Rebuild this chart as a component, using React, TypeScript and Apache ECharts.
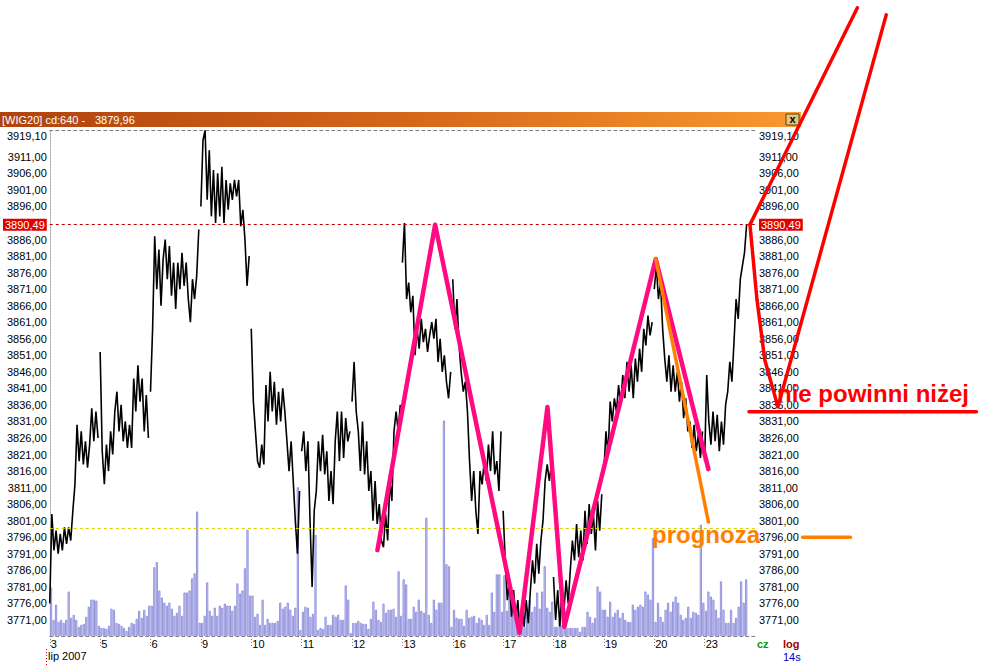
import React, { useEffect, useRef } from "react";
import * as echarts from "echarts";

// ---- axis / labels ----
const dayLabels = ["3", "5", "6", "9", "10", "11", "12", "13", "16", "17", "18", "19", "20", "23"];
const priceMin = 3766.15;
const priceMax = 3919.1;
const lastPrice = 3890.49;
const yTickValues = [
  3766.15, 3771, 3776, 3781, 3786, 3791, 3796, 3801, 3806, 3811, 3816, 3821, 3826, 3831, 3836, 3841,
  3846, 3851, 3856, 3861, 3866, 3871, 3876, 3881, 3886, 3890.49, 3896, 3901, 3906, 3911, 3919.1,
];
const volumeLevel = 106;

// ---- price, per session (July 2007) ----
const p03 = [3776, 3803, 3792, 3798, 3791, 3797, 3792, 3799, 3794, 3799, 3795, 3804, 3812, 3830, 3819, 3828, 3818, 3825, 3817, 3824, 3835, 3825, 3834, 3826];
const p05 = [3852, 3822, 3812, 3824, 3816, 3828, 3821, 3834, 3840, 3828, 3836, 3825, 3831, 3823, 3830, 3823, 3844, 3834, 3848, 3837, 3844, 3828, 3839, 3826];
const p06 = [3840, 3859, 3887, 3871, 3883, 3866, 3880, 3886, 3874, 3884, 3869, 3879, 3865, 3879, 3871, 3882, 3872, 3879, 3868, 3861, 3874, 3868, 3875, 3889];
const p09 = [3896, 3916, 3919, 3898, 3913, 3893, 3907, 3891, 3906, 3893, 3908, 3891, 3904, 3895, 3903, 3898, 3904, 3899, 3904, 3890, 3895, 3886, 3872, 3881];
const p10 = [3859, 3837, 3828, 3819, 3817, 3824, 3818, 3842, 3831, 3846, 3834, 3843, 3830, 3840, 3831, 3841, 3834, 3825, 3816, 3825, 3813, 3801, 3791, 3810];
const p11 = [3822, 3828, 3816, 3825, 3801, 3781, 3804, 3810, 3825, 3816, 3827, 3815, 3822, 3807, 3816, 3806, 3825, 3834, 3819, 3834, 3820, 3832, 3825, 3828];
const p12 = [3837, 3849, 3834, 3828, 3816, 3831, 3815, 3825, 3810, 3816, 3801, 3813, 3800, 3806, 3795, 3793, 3803, 3795, 3813, 3807, 3828, 3834, 3828, 3836];
const p13 = [3879, 3891, 3868, 3873, 3864, 3869, 3851, 3859, 3853, 3862, 3855, 3859, 3852, 3857, 3861, 3856, 3862, 3849, 3856, 3846, 3851, 3843, 3838, 3846];
const p16 = [3874, 3859, 3868, 3854, 3846, 3840, 3843, 3834, 3819, 3807, 3816, 3804, 3797, 3816, 3812, 3819, 3813, 3824, 3816, 3828, 3815, 3819, 3810, 3828];
const p17 = [3804, 3789, 3777, 3783, 3772, 3780, 3771, 3777, 3767, 3776, 3769, 3777, 3770, 3780, 3789, 3782, 3794, 3785, 3795, 3801, 3813, 3818, 3813, 3818];
const p18 = [3784, 3771, 3780, 3769, 3780, 3774, 3783, 3776, 3786, 3795, 3789, 3800, 3790, 3798, 3789, 3804, 3794, 3806, 3797, 3803, 3792, 3807, 3798, 3809];
const p19 = [3816, 3828, 3821, 3837, 3831, 3838, 3834, 3842, 3836, 3845, 3838, 3849, 3840, 3848, 3838, 3850, 3843, 3853, 3846, 3859, 3854, 3863, 3857, 3861];
const p20 = [3871, 3878, 3868, 3873, 3859, 3850, 3843, 3851, 3840, 3848, 3840, 3846, 3837, 3843, 3832, 3838, 3828, 3831, 3823, 3830, 3822, 3827, 3820, 3828];
const p23 = [3819, 3845, 3831, 3824, 3834, 3825, 3833, 3822, 3831, 3824, 3836, 3840, 3849, 3843, 3855, 3868, 3862, 3874, 3878, 3882, 3890.49];

// ---- volume, per session ----
const v03 = [48, 16, 31, 14, 16, 13, 16, 44, 18, 21, 16, 9, 11, 12, 19, 29, 36, 36, 35, 10];
const v05 = [8, 8, 7, 10, 27, 26, 13, 12, 10, 8, 5, 9, 13, 12, 17, 25, 18, 26, 20, 30];
const v06 = [30, 68, 73, 45, 38, 33, 30, 33, 27, 20, 23, 30, 20, 43, 43, 45, 57, 62, 123, 13];
const v09 = [13, 20, 53, 25, 20, 28, 20, 30, 28, 32, 30, 30, 25, 30, 52, 42, 45, 67, 105, 40];
const v10 = [40, 19, 22, 11, 36, 11, 17, 13, 13, 13, 15, 33, 27, 29, 33, 26, 20, 28, 147, 6];
const v11 = [24, 29, 28, 19, 22, 100, 6, 8, 7, 19, 11, 11, 21, 19, 21, 16, 16, 50, 36, 3];
const v12 = [13, 13, 15, 13, 12, 12, 7, 17, 34, 26, 16, 14, 32, 23, 26, 26, 27, 19, 64, 20];
const v13 = [56, 51, 17, 17, 29, 24, 36, 25, 23, 117, 21, 13, 36, 26, 33, 33, 213, 71, 69, 9];
const v16 = [26, 18, 17, 17, 10, 26, 18, 19, 20, 13, 18, 16, 11, 21, 11, 43, 24, 61, 61, 24];
const v17 = [60, 25, 43, 36, 23, 29, 21, 26, 9, 28, 36, 24, 29, 43, 27, 44, 69, 28, 24, 34];
const v18 = [9, 9, 16, 11, 9, 8, 8, 8, 8, 8, 4, 9, 9, 24, 19, 13, 18, 49, 44, 26];
const v19 = [26, 19, 34, 19, 23, 26, 18, 23, 16, 14, 14, 31, 26, 29, 31, 29, 44, 41, 36, 97];
const v20 = [14, 33, 19, 14, 26, 33, 24, 34, 39, 33, 21, 16, 18, 29, 18, 24, 23, 21, 110, 33];
const v23 = [25, 44, 39, 36, 26, 18, 54, 26, 13, 13, 26, 13, 18, 29, 54, 33, 56];

// ---- hand-drawn annotations, in chart coordinates [bar index, price] ----
const pinkZigzag = [[130.1, 3792.1], [153.0, 3890.49], [186.5, 3767.1], [197.6, 3835.4], [204.3, 3768.9], [240.6, 3880.1], [261.5, 3816.6]];
const orangeForecast = [[240.6, 3880.1], [261.5, 3800.6]];
const orangeTarget = [[298.9, 3796], [317.9, 3796]];
const redUpA = [[278.0, 3890.49], [320.6, 3956.0]];
const redUpB = [[278.0, 3890.49], [280.8, 3867.7], [283.9, 3849.6], [289.1, 3835.4], [332.1, 3953.9]];
const redFloor = [[277.6, 3833.9], [367.9, 3833.9]];

const BARS_PER_DAY = 20;
const PRICE_PTS_PER_DAY = 24;

const priceDays = [p03, p05, p06, p09, p10, p11, p12, p13, p16, p17, p18, p19, p20, p23];
const volDays = [v03, v05, v06, v09, v10, v11, v12, v13, v16, v17, v18, v19, v20, v23];

const FONT = "'Liberation Sans', Arial, sans-serif";

function fmt(v: number) {
  const s = v.toFixed(2).replace(".", ",");
  return Math.abs(v - lastPrice) < 1e-6 ? `{hl|${s}}` : s;
}

export default function App() {
  const ref = useRef<HTMLDivElement>(null);

  useEffect(() => {
    if (!ref.current) return;
    const chart = echarts.init(ref.current, undefined, { renderer: "svg" });

    const priceData: any[] = [];
    priceDays.forEach((d, k) => {
      d.forEach((v, i) => priceData.push([k * BARS_PER_DAY + (i * BARS_PER_DAY) / PRICE_PTS_PER_DAY, v]));
      priceData.push([k * BARS_PER_DAY + BARS_PER_DAY - 0.05, "-"]);
    });
    const volData: any[] = [];
    volDays.forEach((d, k) => d.forEach((v, i) => volData.push([k * BARS_PER_DAY + i + 0.5, v])));

    const totalBars = dayLabels.length * BARS_PER_DAY;
    const dayTicks = dayLabels.map((_, k) => k * BARS_PER_DAY);

    const yLabelCommon = {
      customValues: yTickValues,
      formatter: fmt,
      color: "#000",
      fontSize: 11,
      fontFamily: FONT,
      hideOverlap: false,
      verticalAlignMinLabel: "bottom",
      verticalAlignMaxLabel: "top",
      rich: {
        hl: { backgroundColor: "#e00000", color: "#fff", padding: [1, 2, 0, 2], fontSize: 11, fontFamily: FONT },
      },
    };

    const baseGraphic: any[] = [
      {
        type: "rect",
        z: 0,
        shape: { x: 0, y: 112, width: 801, height: 15 },
        style: {
          fill: new echarts.graphic.LinearGradient(0, 0, 1, 0, [
            { offset: 0, color: "#b0420e" },
            { offset: 0.5, color: "#d4661a" },
            { offset: 1, color: "#f9992e" },
          ]),
        },
      },
      { type: "text", z: 1, x: 2, y: 119.5, style: { text: "[WIG20] cd:640 -", fill: "#fff", font: `11px ${FONT}`, verticalAlign: "middle" } },
      { type: "text", z: 1, x: 95, y: 119.5, style: { text: "3879,96", fill: "#fff", font: `11px ${FONT}`, verticalAlign: "middle" } },
      { type: "rect", z: 1, shape: { x: 786, y: 114, width: 13, height: 11 }, style: { fill: "#e6c57e", stroke: "#5a4018", lineWidth: 1 } },
      { type: "text", z: 1, x: 792.5, y: 119, style: { text: "x", fill: "#000", font: `bold 11px ${FONT}`, align: "center", verticalAlign: "middle" } },
      { type: "text", z: 10, x: 48, y: 656, style: { text: "lip 2007", fill: "#000", font: `11px ${FONT}`, verticalAlign: "middle" } },
      { type: "line", z: 10, shape: { x1: 46.5, y1: 649, x2: 46.5, y2: 665 }, style: { stroke: "#cc0000", lineWidth: 1, lineDash: [1, 2] } },
      { type: "text", z: 10, x: 757, y: 644, style: { text: "cz", fill: "#00a000", font: `bold 11px ${FONT}`, verticalAlign: "middle" } },
      { type: "text", z: 10, x: 783, y: 644, style: { text: "log", fill: "#a00000", font: `bold 11px ${FONT}`, verticalAlign: "middle" } },
      { type: "text", z: 10, x: 783, y: 657, style: { text: "14s", fill: "#0000c0", font: `11px ${FONT}`, verticalAlign: "middle" } },
      { type: "text", z: 100, x: 652, y: 534, style: { text: "prognoza", fill: "#ff8000", font: `bold 24px ${FONT}`, verticalAlign: "middle" } },
      { type: "text", z: 100, x: 777, y: 393, style: { text: "nie powinni niżej", fill: "#ff0000", font: `bold 24px ${FONT}`, verticalAlign: "middle" } },
    ];

    const option: any = {
      animation: false,
      backgroundColor: "#ffffff",
      textStyle: { fontFamily: FONT },
      grid: { left: 45, top: 130, width: 710, height: 506, show: false },
      xAxis: [
        {
          type: "value",
          min: 0,
          max: totalBars,
          position: "bottom",
          axisLine: { show: true, lineStyle: { color: "#808080", type: [3, 3], width: 1 } },
          axisTick: { show: true, customValues: dayTicks, length: 12, lineStyle: { color: "#808080", type: [1, 2] } },
          axisLabel: {
            show: true,
            customValues: dayTicks,
            formatter: (v: number) => dayLabels[Math.round(v / BARS_PER_DAY)],
            align: "left",
            margin: 2,
            padding: [0, 0, 0, 1],
            color: "#000",
            fontSize: 11,
            fontFamily: FONT,
          },
          splitLine: { show: false },
        },
        {
          type: "value",
          min: 0,
          max: totalBars,
          position: "top",
          axisLine: { show: true, lineStyle: { color: "#808080", type: [3, 3], width: 1 } },
          axisTick: { show: false },
          axisLabel: { show: false },
          splitLine: { show: false },
        },
      ],
      yAxis: [
        {
          type: "value",
          min: priceMin,
          max: priceMax,
          position: "left",
          axisLine: { show: true, lineStyle: { color: "#a0a0a0", type: [1, 2] } },
          axisTick: { show: false },
          splitLine: { show: false },
          axisLabel: { ...yLabelCommon, margin: 3 },
        },
        {
          type: "value",
          min: priceMin,
          max: priceMax,
          position: "right",
          axisLine: { show: true, lineStyle: { color: "#a0a0a0", type: [1, 2] } },
          axisTick: { show: false },
          splitLine: { show: false },
          axisLabel: { ...yLabelCommon, margin: 4 },
        },
        { type: "value", min: 0, max: 500, show: false },
      ],
      series: [
        {
          type: "bar",
          data: volData,
          xAxisIndex: 0,
          yAxisIndex: 2,
          barWidth: 2.2,
          silent: true,
          itemStyle: { color: "#d2d2f0", borderColor: "#8c8cdc", borderWidth: 0.9 },
          markLine: {
            silent: true,
            symbol: "none",
            label: { show: false },
            lineStyle: { color: "#d4d400", type: [3, 3], width: 1 },
            data: [{ yAxis: volumeLevel }],
          },
          z: 1,
        },
        {
          type: "line",
          data: priceData,
          xAxisIndex: 0,
          yAxisIndex: 0,
          symbol: "none",
          silent: true,
          connectNulls: false,
          lineStyle: { color: "#000", width: 1.6 },
          markLine: {
            silent: true,
            symbol: "none",
            label: { show: false },
            lineStyle: { color: "#c00000", type: [3, 3], width: 1 },
            data: [{ yAxis: lastPrice }],
          },
          z: 3,
        },
      ],
      graphic: baseGraphic,
    };

    chart.setOption(option);

    // Annotation strokes: positioned through the chart's own scales (convertToPixel)
    const toPts = (data: number[][]) =>
      data.map((p) => chart.convertToPixel({ xAxisIndex: 0, yAxisIndex: 0 }, p) as number[]);
    const stroke = (data: number[][], color: string, width: number, z: number) => ({
      type: "polyline",
      z,
      silent: true,
      shape: { points: toPts(data) },
      style: { stroke: color, lineWidth: width, fill: null, lineCap: "round", lineJoin: "round" },
    });
    chart.setOption({
      graphic: baseGraphic.concat([
        stroke(pinkZigzag, "#ff0a80", 4.5, 20),
        stroke(orangeForecast, "#ff8000", 3.5, 21),
        stroke(orangeTarget, "#ff8000", 3.5, 21),
        stroke(redUpA, "#ff0000", 3.5, 22),
        stroke(redUpB, "#ff0000", 3.5, 22),
        stroke(redFloor, "#ff0000", 3.5, 22),
      ]),
    });

    return () => chart.dispose();
  }, []);

  return <div ref={ref} style={{ position: "absolute", left: 0, top: 0, width: 981, height: 665, background: "#fff" }} />;
}
